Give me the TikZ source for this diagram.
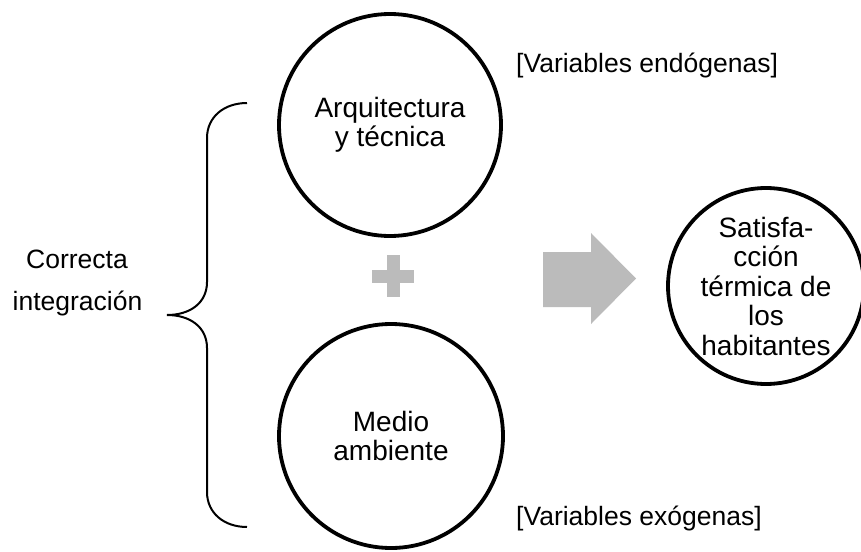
\documentclass[tikz,border=0pt]{standalone}
\usepackage{fontspec}
\setmainfont{Liberation Sans}
\definecolor{shapegray}{RGB}{187,187,187}
\begin{document}
\begin{tikzpicture}[x=1pt,y=-1pt,
  bubble/.style={circle,draw=black,line width=3.8pt,align=center,inner sep=0pt,
    font=\fontsize{28}{29.5}\selectfont},
  lbl/.style={inner sep=0pt,font=\fontsize{26.5}{29}\selectfont},
  bracepen/.style={draw=black,line width=2pt}]
\useasboundingbox (0,0) rectangle (861,551);
% circles
\node[bubble,minimum size=222pt] (arq) at (390,125) {Arquitectura\\y técnica};
\node[bubble,minimum size=224pt] (med) at (391,436) {Medio\\ambiente};
\node[bubble,minimum size=196pt] (sat) at (766,286) {Satisfa-\\cción\\térmica de\\los\\habitantes};
% labels
\node[lbl,anchor=base west] (endo) at (516,72) {[Variables endógenas]};
\node[lbl,anchor=base west] (exo) at (516,525) {[Variables exógenas]};
\node[lbl,anchor=base] (corr) at (77,268) {Correcta};
\node[lbl,anchor=base] (integ) at (77.5,310) {integración};
% plus sign
\fill[shapegray] (372,269.5) rectangle (414,282.5);
\fill[shapegray] (386.5,255) rectangle (399.5,297);
% big arrow
\fill[shapegray] (543,252) -- (591,252) -- (591,233) -- (636,278.5) -- (591,324) -- (591,307) -- (543,307) -- cycle;
% brace
\draw[bracepen] (247,103) .. controls (224,103) and (207,117) .. (207,138)
  -- (207,282) .. controls (207,303) and (190,315) .. (167,315)
  .. controls (190,315) and (207,327) .. (207,348)
  -- (207,492) .. controls (207,513) and (224,527) .. (247,527);
\end{tikzpicture}
\end{document}
